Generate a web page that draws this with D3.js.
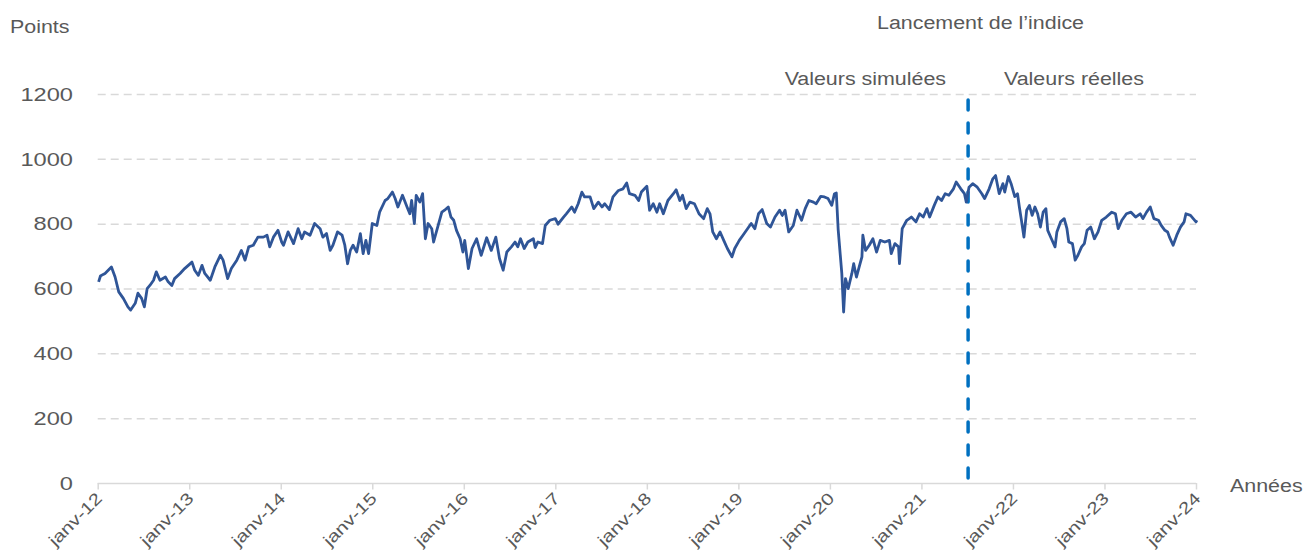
<!DOCTYPE html>
<html><head><meta charset="utf-8">
<script src="https://cdn.jsdelivr.net/npm/d3@7"></script>
<style>
html,body{margin:0;padding:0;background:#fff;}
svg text{font-family:"Liberation Sans",Arial,sans-serif;fill:#595959;}
</style></head>
<body><svg id="c" width="1303" height="553"></svg>
<script>
const years = [2012.01,2012.03,2012.06,2012.08,2012.15,2012.19,2012.23,2012.28,2012.33,2012.36,2012.41,2012.44,2012.48,2012.51,2012.54,2012.57,2012.61,2012.64,2012.68,2012.74,2012.77,2012.81,2012.84,2012.90,2012.95,
2013.03,2013.06,2013.10,2013.14,2013.17,2013.23,2013.28,2013.34,2013.37,2013.42,2013.46,2013.52,2013.57,2013.61,2013.65,2013.70,2013.75,2013.81,2013.85,2013.88,2013.92,2013.97,
2014.01,2014.03,2014.08,2014.14,2014.19,2014.23,2014.26,2014.32,2014.37,2014.43,2014.46,2014.50,2014.54,2014.57,2014.62,2014.67,2014.70,2014.73,2014.76,2014.79,2014.83,2014.87,2014.90,2014.93,2014.96,
2015.00,2015.05,2015.08,2015.14,2015.17,2015.22,2015.25,2015.28,2015.33,2015.38,2015.41,2015.43,2015.46,2015.48,2015.52,2015.55,2015.58,2015.61,2015.65,2015.67,2015.71,2015.76,2015.79,2015.83,2015.86,2015.89,2015.92,2015.96,2015.99,
2016.01,2016.05,2016.09,2016.14,2016.19,2016.25,2016.30,2016.35,2016.39,2016.43,2016.47,2016.52,2016.56,2016.59,2016.62,2016.66,2016.70,2016.76,2016.78,2016.81,2016.86,2016.89,2016.94,
2017.00,2017.03,2017.09,2017.12,2017.18,2017.21,2017.25,2017.29,2017.32,2017.38,2017.42,2017.47,2017.51,2017.54,2017.59,2017.63,2017.69,2017.74,2017.78,2017.81,2017.87,2017.91,2017.94,
2018.00,2018.03,2018.07,2018.11,2018.14,2018.18,2018.23,2018.29,2018.32,2018.36,2018.39,2018.43,2018.47,2018.52,2018.57,2018.62,2018.66,2018.69,2018.72,2018.76,2018.80,2018.84,2018.88,2018.93,2018.96,
2019.01,2019.05,2019.10,2019.14,2019.18,2019.22,2019.26,2019.31,2019.35,2019.40,2019.45,2019.48,2019.51,2019.55,2019.60,2019.64,2019.69,2019.73,2019.77,2019.82,2019.85,2019.90,2019.94,2019.98,
2020.02,2020.05,2020.07,2020.09,2020.13,2020.15,2020.17,2020.20,2020.24,2020.26,2020.29,2020.32,2020.35,2020.36,2020.39,2020.43,2020.47,2020.51,2020.55,2020.60,2020.65,2020.67,2020.71,2020.75,2020.76,2020.79,2020.84,2020.89,2020.94,2020.98,
2021.02,2021.06,2021.09,2021.14,2021.18,2021.22,2021.26,2021.30,2021.35,2021.38,2021.43,2021.47,2021.49,2021.52,2021.56,2021.61,2021.66,2021.69,2021.74,2021.78,2021.81,2021.85,2021.89,2021.91,2021.95,2021.98,
2022.02,2022.05,2022.07,2022.09,2022.12,2022.15,2022.18,2022.21,2022.24,2022.27,2022.30,2022.33,2022.36,2022.38,2022.42,2022.46,2022.48,2022.52,2022.56,2022.59,2022.61,2022.65,2022.68,2022.71,2022.75,2022.78,2022.81,2022.85,2022.89,2022.93,2022.97,
2023.02,2023.08,2023.12,2023.15,2023.19,2023.24,2023.29,2023.34,2023.39,2023.42,2023.46,2023.50,2023.54,2023.59,2023.62,2023.66,2023.69,2023.71,2023.75,2023.79,2023.83,2023.87,2023.89,2023.94,2023.97,2024.00,2024.01];
const values = [622,640,645,648,668,637,591,571,545,535,556,587,571,545,601,611,627,653,627,637,622,611,632,648,663,
683,658,642,673,648,627,668,704,689,632,663,689,719,689,730,735,760,760,766,730,760,781,
745,735,776,740,786,755,776,766,802,786,760,771,719,735,776,766,735,678,719,735,714,771,709,750,709,
802,796,837,873,879,899,879,853,889,853,832,873,802,889,868,894,755,802,786,745,786,837,843,853,822,812,781,755,714,
750,663,725,755,704,758,719,760,694,658,714,730,745,730,755,725,745,755,728,745,740,796,812,
817,800,822,832,853,837,863,899,884,884,848,868,853,863,845,884,904,909,927,894,889,873,899,
917,843,863,837,863,832,873,894,906,873,889,848,868,863,832,817,848,832,776,755,776,750,725,699,725,
750,766,786,802,786,832,845,802,791,822,843,827,843,776,796,843,812,848,873,868,863,886,884,879,
858,894,896,785,648,529,632,601,648,678,637,668,699,766,719,735,755,714,750,745,750,709,740,730,678,786,812,822,807,832,
822,848,822,858,884,873,894,889,909,930,909,894,868,914,925,914,894,879,909,940,950,894,925,899,947,925,
885,894,853,817,760,843,858,827,853,832,791,837,848,781,755,730,776,807,817,786,745,740,689,704,730,740,781,791,755,776,812,
822,837,832,786,812,832,837,822,832,817,837,853,817,812,796,781,776,760,735,766,791,807,832,827,817,807,812];
const yTicks = [0,200,400,600,800,1000,1200];
const xTicks = [2012,2013,2014,2015,2016,2017,2018,2019,2020,2021,2022,2023,2024];
const xTickLabels = ["janv-12","janv-13","janv-14","janv-15","janv-16","janv-17","janv-18","janv-19","janv-20","janv-21","janv-22","janv-23","janv-24"];
const launchYear = 2021.51;

const svg = d3.select("#c");
const x = d3.scaleLinear().domain([2012,2024]).range([97.7,1196]);
const y = d3.scaleLinear().domain([0,1200]).range([483.5,94.5]);

// gridlines
svg.append("g").selectAll("line").data(yTicks.filter(d=>d>0)).join("line")
  .attr("x1",x(2012)).attr("x2",x(2024)).attr("y1",d=>y(d)).attr("y2",d=>y(d))
  .attr("stroke","#d9d9d9").attr("stroke-width",1.5).attr("stroke-dasharray","8,5");

// y labels
svg.append("g").selectAll("text").data(yTicks).join("text")
  .attr("transform",d=>`translate(73,${y(d)}) scale(1.35,1)`).attr("dy","0.36em").attr("text-anchor","end")
  .attr("font-size",17.5).text(d=>d);

// x axis
const xa = svg.append("g").attr("transform",`translate(0,${y(0)})`)
  .call(d3.axisBottom(x).tickValues(xTicks).tickSize(6).tickFormat((d,i)=>xTickLabels[i]));
xa.select(".domain").attr("stroke","#d9d9d9").attr("stroke-width",1.5).attr("d",`M${x(2012)},0H${x(2024)}`);
xa.selectAll(".tick line").attr("stroke","#d9d9d9").attr("stroke-width",1.5).attr("y1",-0.5);
xa.selectAll(".tick text").attr("fill","#595959").attr("font-size",16.5)
  .attr("font-family","Liberation Sans, Arial, sans-serif")
  .attr("text-anchor","end").attr("dy",null).attr("y",null)
  .attr("transform","translate(5,16) rotate(-45) scale(1.25,1)");

// launch line
svg.append("line").attr("x1",x(launchYear)).attr("x2",x(launchYear))
  .attr("y1",100).attr("y2",y(0)-2)
  .attr("stroke","#0070c0").attr("stroke-width",3.5).attr("stroke-dasharray","10,13").attr("stroke-linecap","round");

// series
const pts = years.map((t,i)=>[t,values[i]]);
svg.append("path").datum(pts)
  .attr("fill","none").attr("stroke","#2f5597").attr("stroke-width",2.8).attr("stroke-linejoin","round")
  .attr("d",d3.line().x(d=>x(d[0])).y(d=>y(d[1])));

// texts
function label(tx,ty,anchor,s){
  svg.append("text").attr("transform",`translate(${tx},${ty}) scale(1.19,1)`)
    .attr("text-anchor",anchor).attr("font-size",18).text(s);
}
label(10,33,"start","Points");
label(1230,492,"start","Années");
label(980.5,29,"middle","Lancement de l’indice");
label(946,85,"end","Valeurs simulées");
label(1004,85,"start","Valeurs réelles");
</script></body></html>
